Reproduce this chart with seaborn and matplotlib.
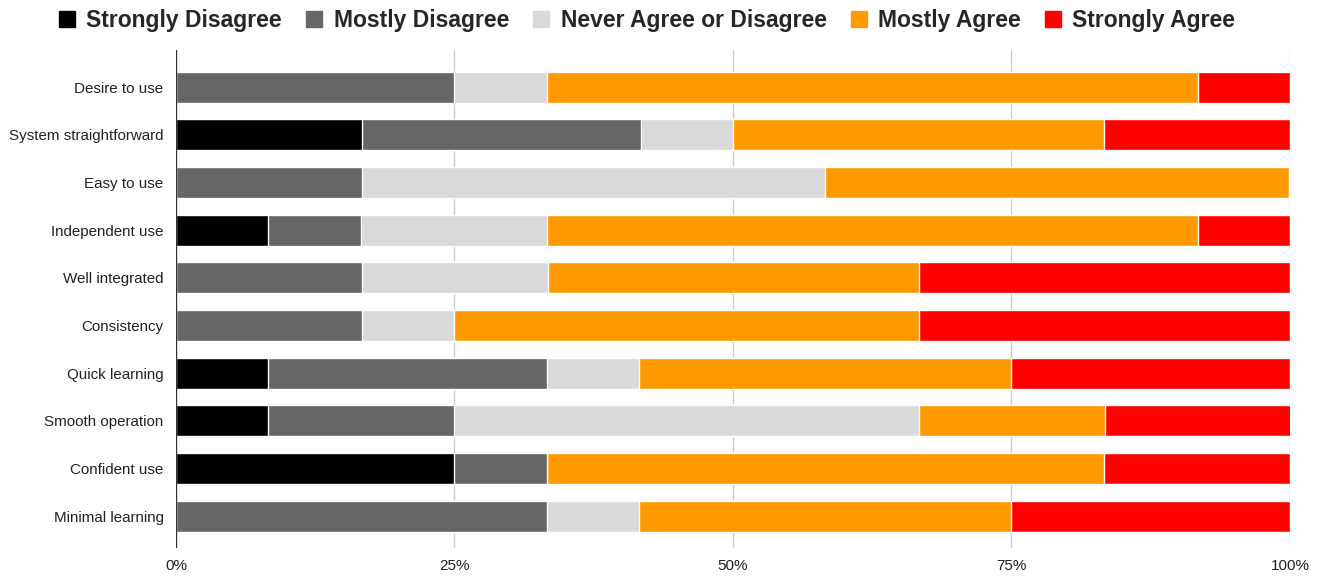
import matplotlib
matplotlib.use("Agg")
import matplotlib.pyplot as plt
import seaborn as sns
import pandas as pd
import numpy as np
from matplotlib.patches import Patch

items = ["Desire to use", "System straightforward", "Easy to use", "Independent use",
         "Well integrated", "Consistency", "Quick learning", "Smooth operation",
         "Confident use", "Minimal learning"]
levels = ["Strongly Disagree", "Mostly Disagree", "Never Agree or Disagree",
          "Mostly Agree", "Strongly Agree"]
colors = ["#000000", "#666666", "#d9d9d9", "#ff9900", "#ff0000"]

# percentages per response level
strongly_disagree = [0.0, 16.7, 0.0, 8.3, 0.0, 0.0, 8.3, 8.3, 25.0, 0.0]
mostly_disagree   = [25.0, 25.0, 16.7, 8.3, 16.7, 16.7, 25.0, 16.7, 8.3, 33.3]
never_agree       = [8.3, 8.3, 41.6, 16.7, 16.7, 8.3, 8.3, 41.7, 0.0, 8.3]
mostly_agree      = [58.4, 33.3, 41.6, 58.4, 33.3, 41.7, 33.4, 16.7, 50.0, 33.4]
strongly_agree    = [8.3, 16.7, 0.1, 8.3, 33.3, 33.3, 25.0, 16.7, 16.7, 25.0]

series = [strongly_disagree, mostly_disagree, never_agree, mostly_agree, strongly_agree]

sns.set_theme(style="white")
plt.rcParams["font.family"] = ["Liberation Sans", "DejaVu Sans"]

df = pd.DataFrame({lvl: vals for lvl, vals in zip(levels, series)}, index=items)
cum = df.cumsum(axis=1)

fig = plt.figure(figsize=(13.18, 5.76), dpi=100)
ax = fig.add_axes([176 / 1318, 1 - 548 / 576, (1290 - 176) / 1318, (548 - 50) / 576])

for lvl, col in reversed(list(zip(levels, colors))):
    d = pd.DataFrame({"item": items, "value": cum[lvl].values})
    sns.barplot(data=d, x="value", y="item", orient="h", color=col, width=0.65,
                edgecolor="white", linewidth=1.0, saturation=1, ax=ax, order=items)

ax.set_xlim(0, 100)
ax.set_ylim(9.67, -0.78)
ax.set_xticks([0, 25, 50, 75, 100])
ax.set_xticklabels(["0%", "25%", "50%", "75%", "100%"], fontsize=11, color="#222222")
ax.tick_params(axis="x", length=0, pad=8)
ax.tick_params(axis="y", length=0, pad=9, labelsize=10.9, labelcolor="#222222")
ax.set_xlabel("")
ax.set_ylabel("")
for s in ax.spines.values():
    s.set_visible(False)
for xv in [25, 50, 75, 100]:
    ax.axvline(xv, color="#cccccc", linewidth=1, zorder=0)
ax.axvline(0, color="#333333", linewidth=1, zorder=3)

handles = [Patch(facecolor=c, edgecolor=c) for c in colors]
fig.legend(handles, levels, loc="upper center", bbox_to_anchor=(0.491, 1.02), ncol=5,
           frameon=False, prop={"weight": "bold", "size": 16.5},
           handlelength=0.7, handleheight=0.7, handletextpad=0.5, columnspacing=1.05)

fig.savefig("out.png", dpi=100)
